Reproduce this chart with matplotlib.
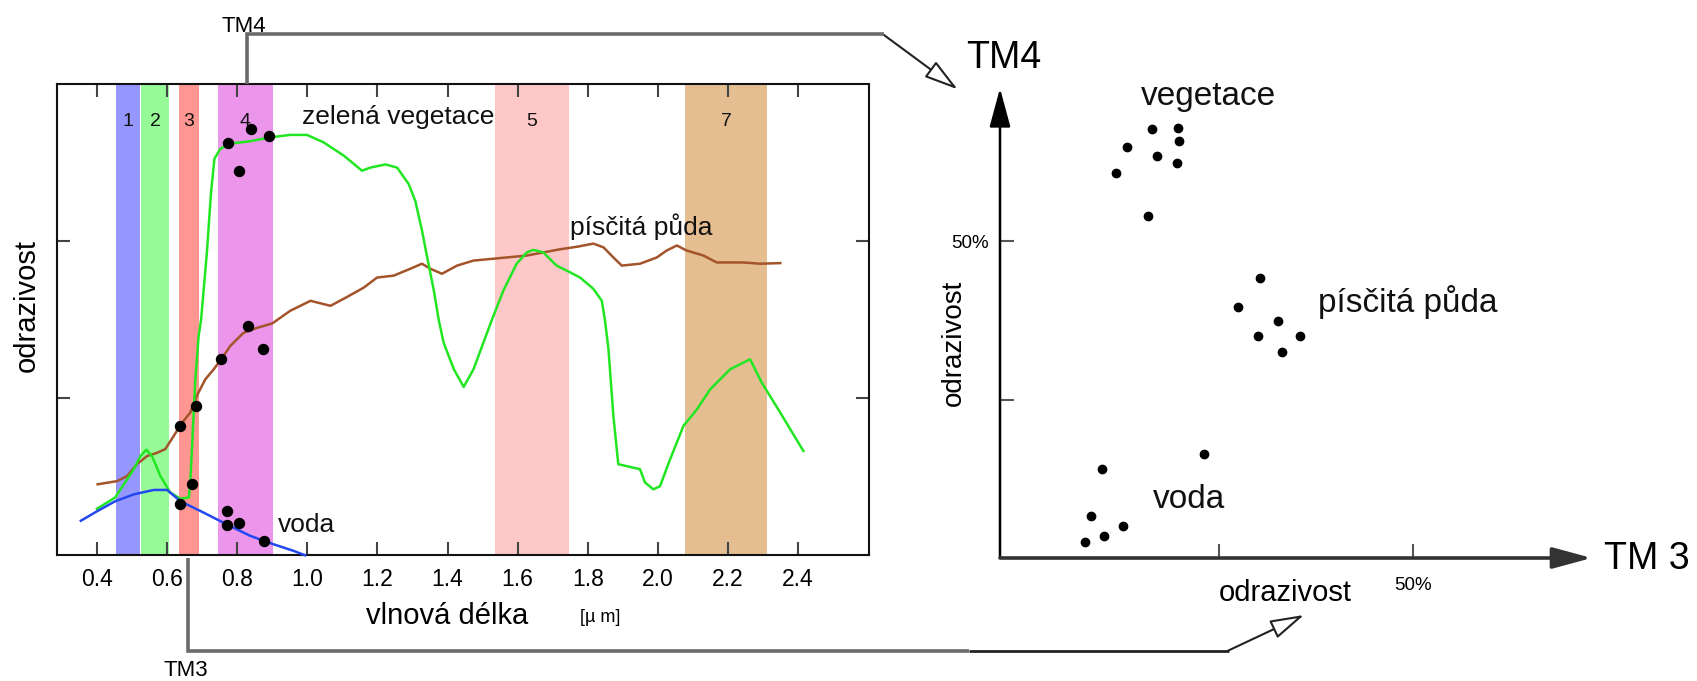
import matplotlib
matplotlib.use('Agg')
import matplotlib.pyplot as plt
from matplotlib.transforms import Affine2D
from matplotlib.patches import FancyArrowPatch, ArrowStyle
from matplotlib.lines import Line2D

W, H = 1697, 681
plt.rcParams['font.family'] = ['Liberation Sans', 'DejaVu Sans']

# ---------------- data (left: spectral curves) ----------------
band_labels = ['1', '2', '3', '4', '5', '7']
band_lo = [0.455, 0.526, 0.635, 0.745, 1.535, 2.078]
band_hi = [0.523, 0.605, 0.690, 0.901, 1.745, 2.311]
band_colors = ['#9696ff', '#96fa96', '#ff9691', '#eb96eb', '#ffc8c8', '#e4be91']

veg_x = [0.400, 0.452, 0.505, 0.524, 0.541, 0.557, 0.581, 0.609, 0.638, 0.662,
         0.666, 0.671, 0.680, 0.690, 0.697, 0.714, 0.725, 0.735, 0.752, 0.780,
         0.837, 0.894, 0.951, 0.999, 1.047, 1.104, 1.156, 1.180, 1.223, 1.256,
         1.289, 1.308, 1.327, 1.342, 1.361, 1.375, 1.389, 1.418, 1.446, 1.474,
         1.502, 1.526, 1.559, 1.597, 1.626, 1.645, 1.673, 1.711, 1.740, 1.778,
         1.816, 1.840, 1.849, 1.859, 1.873, 1.887, 1.949, 1.963, 1.987, 2.006,
         2.035, 2.073, 2.111, 2.149, 2.206, 2.263, 2.296, 2.349, 2.415]
veg_y = [7.4, 9.2, 13.7, 15.8, 16.8, 15.8, 12.6, 10.0, 9.0, 9.2,
         11.6, 16.9, 27.5, 34.9, 37.5, 48.5, 57.5, 63.1, 64.7, 65.5,
         65.9, 66.5, 66.9, 66.9, 65.7, 63.6, 61.2, 61.7, 62.2, 61.7,
         59.1, 56.4, 51.7, 47.4, 42.1, 37.4, 33.8, 29.6, 26.8, 29.6,
         33.8, 37.4, 42.1, 46.4, 48.2, 48.6, 48.2, 46.1, 45.3, 44.2,
         42.4, 40.5, 37.4, 32.8, 22.2, 14.5, 13.7, 11.6, 10.5, 11.0,
         15.3, 20.6, 23.2, 26.4, 29.6, 31.2, 27.5, 22.7, 16.6]

soil_x = [0.402, 0.457, 0.486, 0.514, 0.543, 0.571, 0.595, 0.619, 0.643, 0.666,
          0.685, 0.709, 0.733, 0.757, 0.780, 0.818, 0.857, 0.900, 0.951, 1.009,
          1.066, 1.113, 1.161, 1.199, 1.246, 1.294, 1.327, 1.351, 1.384, 1.427,
          1.474, 1.531, 1.626, 1.721, 1.769, 1.816, 1.845, 1.873, 1.897, 1.949,
          1.997, 2.025, 2.054, 2.082, 2.130, 2.168, 2.244, 2.292, 2.349]
soil_y = [11.3, 11.8, 12.6, 14.5, 15.8, 16.3, 16.9, 19.0, 21.1, 22.7,
          25.4, 28.0, 29.6, 31.4, 33.3, 35.4, 36.2, 36.9, 38.9, 40.5,
          39.7, 41.1, 42.6, 44.2, 44.5, 45.6, 46.4, 45.6, 44.8, 46.1,
          46.9, 47.2, 47.7, 48.7, 49.1, 49.6, 49.0, 47.4, 46.1, 46.4,
          47.4, 48.5, 49.3, 48.5, 47.7, 46.6, 46.6, 46.4, 46.5]

water_x = [0.354, 0.400, 0.452, 0.505, 0.562, 0.600, 0.638, 0.704, 0.771, 0.837,
           0.904, 0.961, 0.994]
water_y = [5.5, 7.0, 8.6, 9.7, 10.4, 10.4, 8.6, 6.8, 4.9, 3.1, 1.75, 0.7, 0.0]

sample_x = [0.774, 0.804, 0.839, 0.890, 0.830, 0.873, 0.755, 0.683, 0.638, 0.671,
            0.636, 0.772, 0.771, 0.805, 0.876]
sample_y = [65.6, 61.2, 67.9, 66.7, 36.5, 32.9, 31.2, 23.8, 20.5, 11.3,
            8.2, 7.0, 4.9, 5.2, 2.3]

x_ticks = [0.4, 0.6, 0.8, 1.0, 1.2, 1.4, 1.6, 1.8, 2.0, 2.2, 2.4]
x_tick_labels = ['0.4', '0.6', '0.8', '1.0', '1.2', '1.4', '1.6', '1.8', '2.0', '2.2', '2.4']

# ---------------- data (right: TM3 / TM4 scatter) ----------------
veg_tm3 = [18.4, 21.5, 15.4, 21.6, 19.0, 21.4, 14.0, 17.9]
veg_tm4 = [67.8, 68.0, 65.0, 65.8, 63.5, 62.4, 60.8, 54.1]
soil_tm3 = [31.5, 28.8, 33.6, 31.2, 36.3, 34.1]
soil_tm4 = [44.2, 39.7, 37.5, 35.1, 35.1, 32.5]
water_tm3 = [24.7, 12.3, 11.0, 14.9, 12.6, 10.3]
water_tm4 = [16.4, 14.0, 6.7, 5.1, 3.5, 2.5]

fig = plt.figure(figsize=(W / 100, H / 100), dpi=100)
pix = Affine2D().scale(1.0 / W, -1.0 / H).translate(0, 1) + fig.transFigure


def frac(x0, y0, x1, y1):
    return [x0 / W, 1 - y1 / H, (x1 - x0) / W, (y1 - y0) / H]


# ---------------- left chart ----------------
ax = fig.add_axes(frac(57, 84, 869.3, 555.3))
ax.set_xlim(0.286, 2.603)
ax.set_ylim(0, 75)
for lo, hi, c, lab in zip(band_lo, band_hi, band_colors, band_labels):
    ax.axvspan(lo, hi, color=c, lw=0, zorder=0)
    ax.text((lo + hi) / 2, 68.3, lab, ha='center', va='baseline', fontsize=14, color='#111')

ax.plot(soil_x, soil_y, color='#a3542a', lw=1.8, zorder=3)
ax.plot(veg_x, veg_y, color='#22e622', lw=1.8, zorder=3)
ax.plot(water_x, water_y, color='#2448f0', lw=1.8, zorder=3, clip_on=False)
ax.plot(sample_x, sample_y, 'o', color='black', ms=7.2, zorder=4)

ax.text(0.985, 68.6, 'zelená vegetace', ha='left', va='baseline', fontsize=19, color='#111')
ax.text(1.749, 50.9, 'písčitá půda', ha='left', va='baseline', fontsize=19, color='#111')
ax.text(0.916, 3.7, 'voda', ha='left', va='baseline', fontsize=19, color='#111')

ax.set_xticks(x_ticks)
ax.set_xticklabels(x_tick_labels)
ax.set_yticks([25, 50])
ax.set_yticklabels([])
ax.tick_params(direction='in', length=9.4, width=1.5, top=True, right=True,
               labelsize=16.5, pad=9, color='#444')
for s in ax.spines.values():
    s.set_linewidth(1.5)
    s.set_color('#111')

fig.text(27, 305, 'odrazivost', transform=pix, rotation=90, ha='center', va='center', fontsize=21)
fig.text(447, 624, 'vlnová délka', transform=pix, ha='center', va='baseline', fontsize=21)
fig.text(600, 618, '[µ m]', transform=pix, ha='center', va='center', fontsize=13)

# ---------------- right chart ----------------
ax2 = fig.add_axes(frac(1000, 88.3, 1591.7, 558))
ax2.set_xlim(0, 71.57)
ax2.set_ylim(0, 74.2)
for s in ax2.spines.values():
    s.set_visible(False)
ax2.patch.set_alpha(0)
ax2.plot(veg_tm3, veg_tm4, 'o', color='black', ms=6, clip_on=False)
ax2.plot(soil_tm3, soil_tm4, 'o', color='black', ms=6, clip_on=False)
ax2.plot(water_tm3, water_tm4, 'o', color='black', ms=6, clip_on=False)
ax2.set_xticks([26.5, 50])
ax2.set_xticklabels(['', '50%'])
ax2.set_yticks([25, 50])
ax2.set_yticklabels(['', '50%'])
ax2.tick_params(direction='in', length=10, width=1.5, color='#555', labelsize=13.5)
ax2.tick_params(axis='x', pad=14)
ax2.tick_params(axis='y', pad=8)

ax2.text(17.1, 71.6, 'vegetace', ha='left', va='baseline', fontsize=24, color='#111', clip_on=False)
ax2.text(38.5, 38.9, 'písčitá půda', ha='left', va='baseline', fontsize=24, color='#111')
ax2.text(18.5, 7.85, 'voda', ha='left', va='baseline', fontsize=24, color='#111')

# axis arrows
ax_style = ArrowStyle('-|>', head_length=24, head_width=6.5)
fig.add_artist(FancyArrowPatch((1000, 558), (1000, 88.3), transform=pix, arrowstyle=ax_style,
                               mutation_scale=1, lw=1.8, color='black', shrinkA=0, shrinkB=0))
fig.add_artist(FancyArrowPatch((1000, 558), (1591.7, 558), transform=pix, arrowstyle=ax_style,
                               mutation_scale=1, lw=2.6, color='#333', shrinkA=0, shrinkB=0))

fig.text(966.5, 68.3, 'TM4', transform=pix, ha='left', va='baseline', fontsize=27)
fig.text(1604, 569.3, 'TM 3', transform=pix, ha='left', va='baseline', fontsize=27)
fig.text(1285, 600.7, 'odrazivost', transform=pix, ha='center', va='baseline', fontsize=21)
fig.text(954, 342.5, 'odrazivost', transform=pix, rotation=90, ha='center', va='center', fontsize=20)

# ---------------- connectors ----------------
grey = '#6a6a6a'
fig.add_artist(Line2D([246.5, 246.5, 884], [84, 34.3, 34.3], transform=pix, color=grey, lw=2.6,
                      solid_joinstyle='miter', solid_capstyle='butt'))
hollow = ArrowStyle('-|>', head_length=21, head_width=6)
fig.add_artist(FancyArrowPatch((883, 34.3), (957.6, 89.3), transform=pix, arrowstyle=hollow,
                               mutation_scale=1, lw=1.5, ec='#222', fc='white', shrinkA=0, shrinkB=0))
fig.add_artist(Line2D([188, 188, 969], [558, 650.7, 650.7], transform=pix, color=grey, lw=2.6,
                      solid_joinstyle='miter', solid_capstyle='butt'))
fig.add_artist(Line2D([969, 1229], [650.7, 650.7], transform=pix, color='#222', lw=2.0,
                      solid_capstyle='butt'))
fig.add_artist(FancyArrowPatch((1228, 650.7), (1304, 615), transform=pix, arrowstyle=hollow,
                               mutation_scale=1, lw=1.5, ec='#222', fc='white', shrinkA=0, shrinkB=0))

fig.text(243.5, 31.7, 'TM4', transform=pix, ha='center', va='baseline', fontsize=16)
fig.text(186, 676, 'TM3', transform=pix, ha='center', va='baseline', fontsize=16)

fig.savefig('out.png', dpi=100)
